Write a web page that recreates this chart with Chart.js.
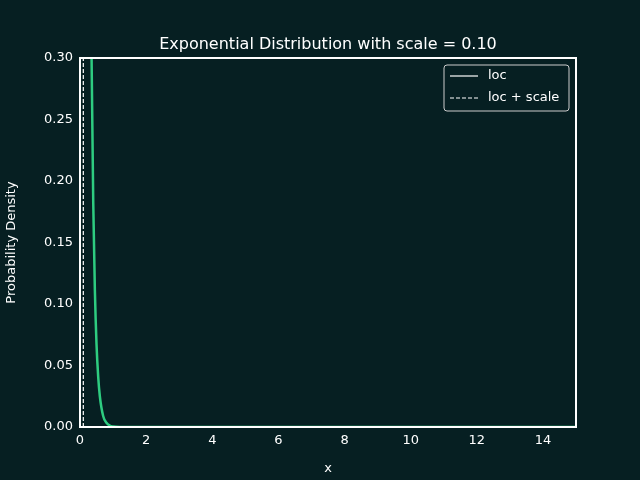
<!DOCTYPE html>
<html><head><script src="https://cdn.jsdelivr.net/npm/chart.js"></script>
<style>body{margin:0;background:#061f22}</style></head>
<body><canvas id="c" width="640" height="480"></canvas>
<script>
const xs=[0,0.05,0.1,0.15,0.2,0.25,0.3,0.35,0.4,0.45,0.5,0.55,0.6,0.7,0.8,0.9,1.0,1.2,1.5,2,3,5,10,15];
const pdf=[10,6.07,3.68,2.23,1.35,0.82,0.50,0.30,0.183,0.111,0.067,0.041,0.025,0.009,0.0034,0.0012,0.00045,0.00006,0.000003,0,0,0,0,0];
const locX=0, locScaleX=0.1;
const xTicks=[0,2,4,6,8,10,12,14];
const title='Exponential Distribution with scale = 0.10';
const fg='#ffffff', font='DejaVu Sans';
Chart.defaults.font.family=font;
Chart.defaults.color=fg;
const deco={id:'deco',afterDraw(ch){const c=ch.ctx,a=ch.chartArea;c.save();
c.strokeStyle=fg;c.lineWidth=2;c.strokeRect(a.left,a.top,a.right-a.left,a.bottom-a.top);
c.fillStyle=fg;c.font='16px '+font;c.textAlign='center';c.textBaseline='alphabetic';
c.fillText(title,(a.left+a.right)/2,a.top-9);
const lx=444,ly=65,w=125,h=46;c.fillStyle='#061f22';c.strokeStyle='#cccccc';c.lineWidth=1;
c.beginPath();c.roundRect(lx,ly,w,h,3);c.fill();c.stroke();
c.strokeStyle=fg;c.lineWidth=1.2;c.beginPath();c.moveTo(lx+6,ly+11);c.lineTo(lx+34,ly+11);c.stroke();
c.setLineDash([4,2]);c.beginPath();c.moveTo(lx+6,ly+33);c.lineTo(lx+34,ly+33);c.stroke();c.setLineDash([]);
c.fillStyle=fg;c.font='13px '+font;c.textAlign='left';c.textBaseline='middle';
c.fillText('loc',lx+44,ly+11);c.fillText('loc + scale',lx+44,ly+33);c.restore();}};
new Chart(document.getElementById('c'),{type:'line',
data:{datasets:[
{data:xs.map((x,i)=>({x,y:pdf[i]})),borderColor:'#2ecc80',borderWidth:2.5,pointRadius:0,tension:0.4,cubicInterpolationMode:'monotone'},
{data:[{x:locX,y:0},{x:locX,y:0.3}],borderColor:fg,borderWidth:1.2,pointRadius:0},
{data:[{x:locScaleX,y:0},{x:locScaleX,y:0.3}],borderColor:fg,borderWidth:1.2,borderDash:[4,2],pointRadius:0}]},
options:{animation:false,responsive:false,layout:{padding:{top:58,right:64,left:0,bottom:0}},
plugins:{legend:{display:false},title:{display:false},tooltip:{enabled:false}},
scales:{
x:{type:'linear',min:0,max:15,afterBuildTicks(s){s.ticks=xTicks.map(v=>({value:v}))},afterFit(s){s.height=53},
grid:{display:false,drawTicks:true,tickLength:4},border:{color:fg,width:2},ticks:{color:fg,font:{size:13},padding:2},
title:{display:true,text:'x',color:fg,font:{size:13},padding:{top:2}}},
y:{min:0,max:0.3,afterFit(s){s.width=80},grid:{display:false,tickLength:4},border:{color:fg,width:2},
ticks:{stepSize:0.05,color:fg,font:{size:13},callback:v=>v.toFixed(2)},
title:{display:true,text:'Probability Density',color:fg,font:{size:13}}}}},
plugins:[deco]});
</script></body></html>
